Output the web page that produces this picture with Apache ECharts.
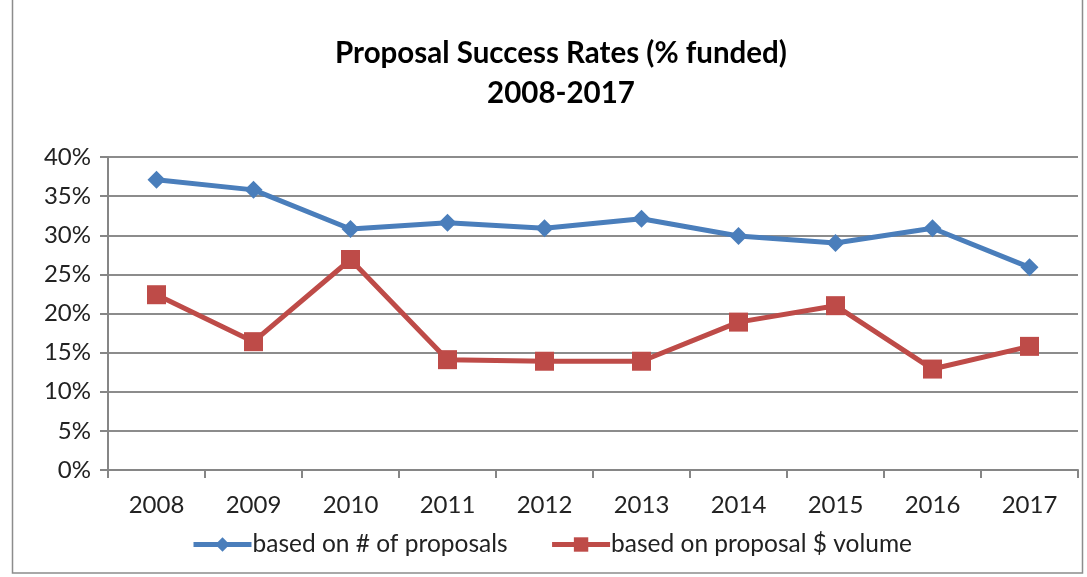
<!DOCTYPE html>
<html><head><meta charset="utf-8">
<script src="https://cdn.jsdelivr.net/npm/echarts@6/dist/echarts.min.js"></script>
<style>html,body{margin:0;padding:0;background:#fff}#c{width:1087px;height:577px}</style>
</head><body><div id="c"></div>
<script>
const years = ['2008','2009','2010','2011','2012','2013','2014','2015','2016','2017'];
const byCount = [37.1, 35.8, 30.8, 31.6, 30.9, 32.1, 29.9, 29.0, 30.9, 25.9];
const byVolume = [22.4, 16.4, 26.9, 14.1, 13.9, 13.9, 18.9, 21.0, 12.9, 15.8];
const seriesNames = ['based on # of proposals', 'based on proposal $ volume'];
const titleLines = ['Proposal Success Rates (% funded)', '2008-2017'];
const FONT = 'Lato, "Open Sans", sans-serif';
const chart = echarts.init(document.getElementById('c'));
chart.setOption({
  animation: false,
  backgroundColor: '#fff',
  graphic: [{type:'rect', shape:{x:12.5,y:-5,width:1070,height:578}, style:{fill:'none', stroke:'#8c8c8c', lineWidth:1.5}, silent:true}],
  title: {text: titleLines.join('\n'), left: 556, top: 28, textAlign: 'center',
    textStyle:{fontFamily:FONT, fontSize:29.5, fontWeight:'bold', color:'#000', lineHeight:40}},
  legend: {top: 527, left: 186, itemWidth: 58, itemHeight: 18, itemGap: 42,
    lineStyle:{width:5},
    textStyle:{fontFamily:FONT, fontSize:24.5, color:'#222', padding:[0,0,0,-4]},
    data: seriesNames},
  grid: {left: 108, right: 9, top: 157, bottom: 107},
  xAxis: {type:'category', data: years, boundaryGap:true,
    axisLine:{lineStyle:{color:'#868686', width:2}},
    axisTick:{show:true, alignWithLabel:false, length:8, lineStyle:{color:'#868686', width:2}},
    axisLabel:{fontFamily:FONT, fontSize:24, color:'#222', margin:23}},
  yAxis: {type:'value', min:0, max:40, interval:5,
    axisLine:{show:true, lineStyle:{color:'#868686', width:2}},
    axisTick:{show:true, length:8, lineStyle:{color:'#868686', width:2}},
    splitLine:{lineStyle:{color:'#8c8c8c', width:2}},
    axisLabel:{fontFamily:FONT, fontSize:24, color:'#222', margin:17, formatter: v => v + '%'}},
  series: [
    {name: seriesNames[0], type:'line', data: byCount, symbol:'diamond', symbolSize:18,
      lineStyle:{color:'#4a7ebb', width:5}, itemStyle:{color:'#4a7ebb'}},
    {name: seriesNames[1], type:'line', data: byVolume, symbol:'rect', symbolSize:19,
      lineStyle:{color:'#be4b48', width:5}, itemStyle:{color:'#be4b48'}}
  ]
});
</script></body></html>
